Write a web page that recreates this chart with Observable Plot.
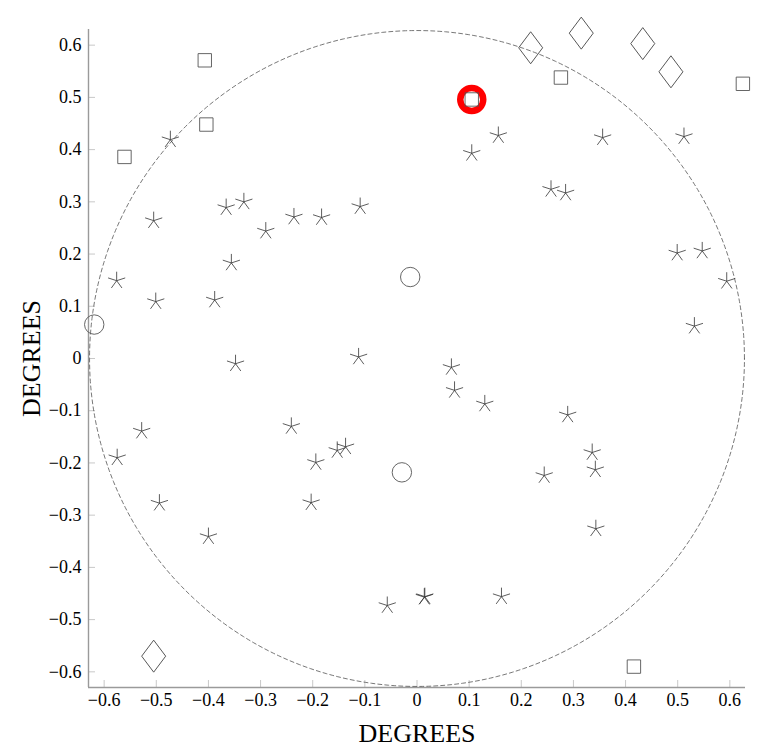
<!DOCTYPE html>
<html>
<head>
<meta charset="utf-8">
<script src="https://cdn.jsdelivr.net/npm/d3@7"></script>
<script src="https://cdn.jsdelivr.net/npm/@observablehq/plot@0.6"></script>
<style>
  html, body { margin: 0; padding: 0; background: white; }
</style>
</head>
<body>
<div id="chart"></div>
<script>
// ---- data (degrees) ----
const starX = [-0.473, -0.505, -0.576, -0.501, -0.366, -0.332, -0.290, -0.236, -0.356, -0.388, -0.183, -0.109,
               0.156, 0.105, 0.356, 0.512, 0.257, 0.285, 0.499, 0.547, 0.594, 0.532,
               -0.112, -0.348, 0.066, 0.072, 0.130,
               -0.241, -0.528, -0.575, -0.494, -0.400, -0.137, -0.153, -0.194, -0.203, -0.057, 0.014, 0.015, 0.162,
               0.289, 0.336, 0.342, 0.244, 0.343];
const starY = [0.419, 0.264, 0.149, 0.109, 0.289, 0.300, 0.244, 0.271, 0.183, 0.112, 0.270, 0.291,
               0.427, 0.393, 0.423, 0.425, 0.324, 0.317, 0.202, 0.206, 0.148, 0.062,
               0.003, -0.010, -0.017, -0.061, -0.087,
               -0.130, -0.139, -0.190, -0.277, -0.341, -0.169, -0.176, -0.199, -0.276, -0.473, -0.457, -0.456, -0.456,
               -0.108, -0.180, -0.213, -0.224, -0.326];
const squareX = [-0.561, -0.407, -0.404, 0.105, 0.276, 0.625, 0.416];
const squareY = [0.386, 0.571, 0.448, 0.496, 0.538, 0.526, -0.590];
const diamondX = [0.218, 0.315, 0.433, 0.487, -0.505];
const diamondY = [0.595, 0.623, 0.603, 0.549, -0.570];
const circleX = [-0.619, -0.013, -0.029];
const circleY = [0.065, 0.156, -0.218];
const highlightX = [0.105];
const highlightY = [0.496];
const ringRadius = 0.628;
const xDomain = [-0.63, 0.63];
const yDomain = [-0.63, 0.63];
const xTicks = [-0.6, -0.5, -0.4, -0.3, -0.2, -0.1, 0, 0.1, 0.2, 0.3, 0.4, 0.5, 0.6];
const yTicks = [-0.6, -0.5, -0.4, -0.3, -0.2, -0.1, 0, 0.1, 0.2, 0.3, 0.4, 0.5, 0.6];
const axisLabel = "DEGREES";

// ---- tables ----
const stars = starX.map((x, i) => ({x, y: starY[i]}));
const squares = squareX.map((x, i) => ({x, y: squareY[i]}));
const diamonds = diamondX.map((x, i) => ({x, y: diamondY[i]}));
const circles = circleX.map((x, i) => ({x, y: circleY[i]}));
const highlight = highlightX.map((x, i) => ({x, y: highlightY[i]}));
const ring = d3.range(0, 361, 1).map(a => ({x: ringRadius * Math.cos(a * Math.PI / 180), y: ringRadius * Math.sin(a * Math.PI / 180)}));

// ---- custom symbols ----
const star5 = {
  draw(ctx, size) {
    const r = Math.sqrt(size / Math.PI);
    for (let i = 0; i < 5; i++) {
      const a = -Math.PI / 2 + i * 2 * Math.PI / 5;
      ctx.moveTo(0, 0);
      ctx.lineTo(r * Math.cos(a), r * Math.sin(a));
    }
  }
};
const diamond = {
  draw(ctx, size) {
    const r = Math.sqrt(size / Math.PI);
    ctx.moveTo(0, -r);
    ctx.lineTo(0.75 * r, 0);
    ctx.lineTo(0, r);
    ctx.lineTo(-0.75 * r, 0);
    ctx.closePath();
  }
};
const square = {
  draw(ctx, size) {
    const r = Math.sqrt(size / Math.PI);
    ctx.moveTo(-r, -r);
    ctx.lineTo(r, -r);
    ctx.lineTo(r, r);
    ctx.lineTo(-r, r);
    ctx.closePath();
  }
};

const fmt = d3.format("~g");
const serif = "'Liberation Serif', 'DejaVu Serif', serif";

const chart = Plot.plot({
  width: 773,
  height: 756,
  marginLeft: 88,
  marginRight: 28,
  marginTop: 29,
  marginBottom: 69,
  x: {domain: xDomain, axis: null},
  y: {domain: yDomain, axis: null},
  style: {fontFamily: serif, fontSize: "18px", background: "white", color: "black"},
  marks: [
    // inward ticks
    Plot.axisX(xTicks, {anchor: "bottom", tickSize: 7, dy: -7, fill: "none", stroke: "#c8c8c8", strokeWidth: 1, label: null}),
    Plot.axisY(yTicks, {anchor: "left", tickSize: 7, dx: 7, fill: "none", stroke: "#c8c8c8", strokeWidth: 1, label: null}),
    // tick labels
    Plot.text(xTicks, {x: d => d, frameAnchor: "bottom", lineAnchor: "top", dy: 5.5, text: d => fmt(d), fontSize: 18, fontFamily: serif, fill: "black"}),
    Plot.text(yTicks, {y: d => d, frameAnchor: "left", textAnchor: "end", dx: -7, text: d => fmt(d), fontSize: 18, fontFamily: serif, fill: "black"}),
    // axis lines
    Plot.ruleX([xDomain[0]], {stroke: "#9a9a9a", strokeWidth: 1.4}),
    Plot.ruleY([yDomain[0]], {stroke: "#9a9a9a", strokeWidth: 1.4}),
    // axis titles
    Plot.text([axisLabel], {frameAnchor: "bottom", lineAnchor: "middle", textAnchor: "middle", dy: 46, text: d => d, fontSize: 26, fontFamily: serif}),
    Plot.text([axisLabel], {frameAnchor: "left", lineAnchor: "middle", textAnchor: "middle", dx: -57, rotate: -90, text: d => d, fontSize: 26, fontFamily: serif}),
    // dashed reference circle
    Plot.line(ring, {x: "x", y: "y", stroke: "#555", strokeWidth: 0.8, strokeDasharray: "4,3"}),
    // highlight ring
    Plot.dot(highlight, {x: "x", y: "y", r: 11.5, stroke: "#ff0000", strokeWidth: 6.5, fill: "none"}),
    // markers
    Plot.dot(stars, {x: "x", y: "y", symbol: star5, r: 9, stroke: "#333", strokeWidth: 0.8, fill: "none"}),
    Plot.dot(squares, {x: "x", y: "y", symbol: square, r: 6.7, stroke: "#555", strokeWidth: 0.9, fill: "none"}),
    Plot.dot(diamonds, {x: "x", y: "y", symbol: diamond, r: 16, stroke: "#444", strokeWidth: 0.9, fill: "none"}),
    Plot.dot(circles, {x: "x", y: "y", r: 9.7, stroke: "#555", strokeWidth: 0.9, fill: "none"})
  ]
});
document.getElementById("chart").appendChild(chart);
</script>
</body>
</html>
